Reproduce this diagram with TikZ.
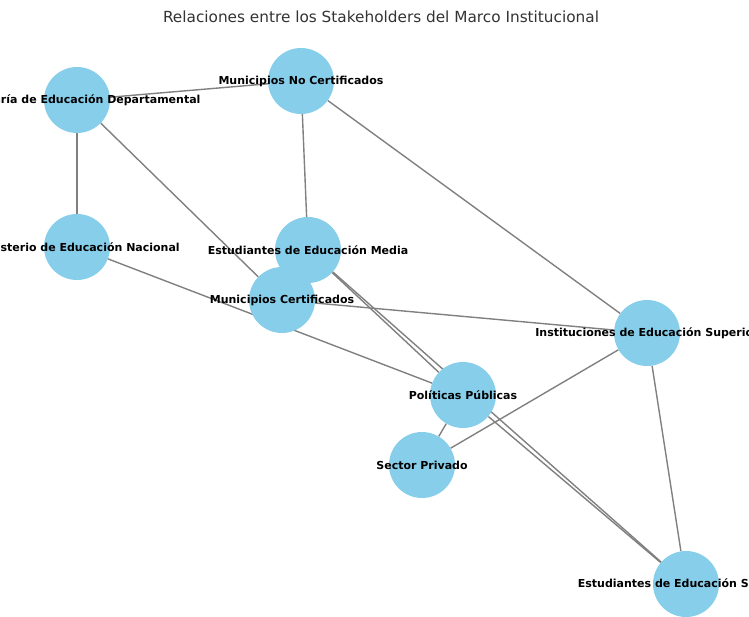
\documentclass[tikz,border=0pt]{standalone}
\usepackage{fontspec}
\setmainfont{DejaVu Sans}
\usetikzlibrary{backgrounds}
\definecolor{skyblue}{HTML}{87CEEB}
\definecolor{edgegray}{HTML}{808080}
\definecolor{titlegray}{HTML}{333333}
\begin{document}
\begin{tikzpicture}[x=1pt,y=-1pt,
  stake/.style={circle,fill=skyblue,minimum size=66pt,inner sep=0pt},
  lbl/.style={font=\bfseries\fontsize{11}{13}\selectfont,inner sep=0pt},
  link/.style={draw=edgegray,line width=1.4pt}]
  \useasboundingbox (0,0) rectangle (749,616);
  \clip (0,0) rectangle (749,616);
  \node[text=titlegray,font=\fontsize{15.3}{17}\selectfont](title) at (381,17) {Relaciones entre los Stakeholders del Marco Institucional};
  % stakeholders
  \node[stake](sed) at (77,100) {};
  \node[stake](mnc) at (301,81) {};
  \node[stake](men) at (77,247) {};
  \node[stake](eem) at (308,250) {};
  \node[stake](mc) at (282,300) {};
  \node[stake](ies) at (647,333) {};
  \node[stake](pp) at (463,395) {};
  \node[stake](sp) at (422,465) {};
  \node[stake](ees) at (686,584) {};
  % relaciones
  \begin{pgfonlayer}{background}
    \draw[link] (sed) -- (mnc);
    \draw[link] (sed) -- (men);
    \draw[link] (sed) -- (mc);
    \draw[link] (mnc) -- (eem);
    \draw[link] (mnc) -- (ies);
    \draw[link] (men) -- (pp);
    \draw[link] (mc) -- (ies);
    \draw[link] (eem) -- (pp);
    \draw[link] (eem) -- (ees);
    \draw[link] (pp) -- (ees);
    \draw[link] (pp) -- (sp);
    \draw[link] (sp) -- (ies);
    \draw[link] (ies) -- (ees);
  \end{pgfonlayer}
  % nombres
  \node[lbl](sedl) at (sed) {Secretaría de Educación Departamental};
  \node[lbl](mncl) at (mnc) {Municipios No Certificados};
  \node[lbl](menl) at (men) {Ministerio de Educación Nacional};
  \node[lbl](eeml) at (eem) {Estudiantes de Educación Media};
  \node[lbl](mcl) at (mc) {Municipios Certificados};
  \node[lbl](iesl) at (ies) {Instituciones de Educación Superior};
  \node[lbl](ppl) at (pp) {Políticas Públicas};
  \node[lbl](spl) at (sp) {Sector Privado};
  \node[lbl](eesl) at (ees) {Estudiantes de Educación Superior};
\end{tikzpicture}
\end{document}
